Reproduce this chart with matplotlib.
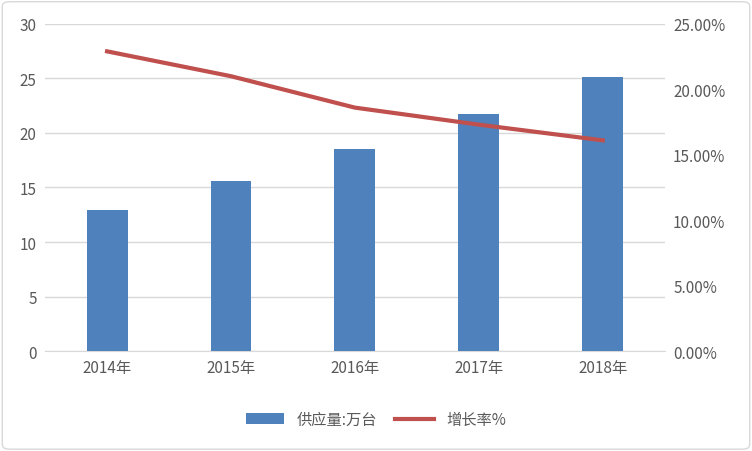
import matplotlib
matplotlib.use('Agg')
import matplotlib.pyplot as plt
from matplotlib.ticker import FuncFormatter
from matplotlib.patches import FancyBboxPatch

plt.rcParams['font.family'] = ['Noto Sans CJK SC', 'DejaVu Sans']

years = ['2014年', '2015年', '2016年', '2017年', '2018年']
supply = [12.9, 15.6, 18.5, 21.7, 25.1]
growth = [22.9, 21.0, 18.6, 17.3, 16.1]

fig = plt.figure(figsize=(7.52, 4.52), dpi=100)
fig.patch.set_facecolor('white')
fig.patches.append(FancyBboxPatch((0.003, 0.004), 0.994, 0.99, boxstyle='round,pad=0,rounding_size=0.01',
                                  transform=fig.transFigure, fill=False, edgecolor='#d9d9d9', linewidth=1))
ax = fig.add_axes([0.06, 0.221, 0.824, 0.724])
x = range(len(years))
b = ax.bar(x, supply, width=0.33, color='#4f81bd', zorder=3, label='供应量:万台')
ax.set_ylim(0, 30)
ax.set_yticks(range(0, 31, 5))
ax.set_xlim(-0.5, 4.5)
ax.set_xticks(list(x))
ax.set_xticklabels(years)
ax.grid(axis='y', color='#d9d9d9', linewidth=1, zorder=0)
for s in ['top', 'left', 'right']:
    ax.spines[s].set_visible(False)
ax.spines['bottom'].set_color('#d9d9d9')
ax.tick_params(length=0, labelsize=11, colors='#595959', pad=6)

ax2 = ax.twinx()
l, = ax2.plot(x, growth, color='#c0504d', linewidth=3, zorder=4, label='增长率%')
ax2.set_ylim(0, 25)
ax2.set_yticks(range(0, 26, 5))
ax2.yaxis.set_major_formatter(FuncFormatter(lambda v, p: '%.2f%%' % v))
for s in ax2.spines.values():
    s.set_visible(False)
ax2.tick_params(length=0, labelsize=11, colors='#595959', pad=6)

fig.legend(handles=[b, l], loc='center', bbox_to_anchor=(0.5, 0.07), ncol=2, frameon=False,
           fontsize=11, labelcolor='#595959', handlelength=2.5, columnspacing=1.2)
fig.savefig('out.png', dpi=100)
